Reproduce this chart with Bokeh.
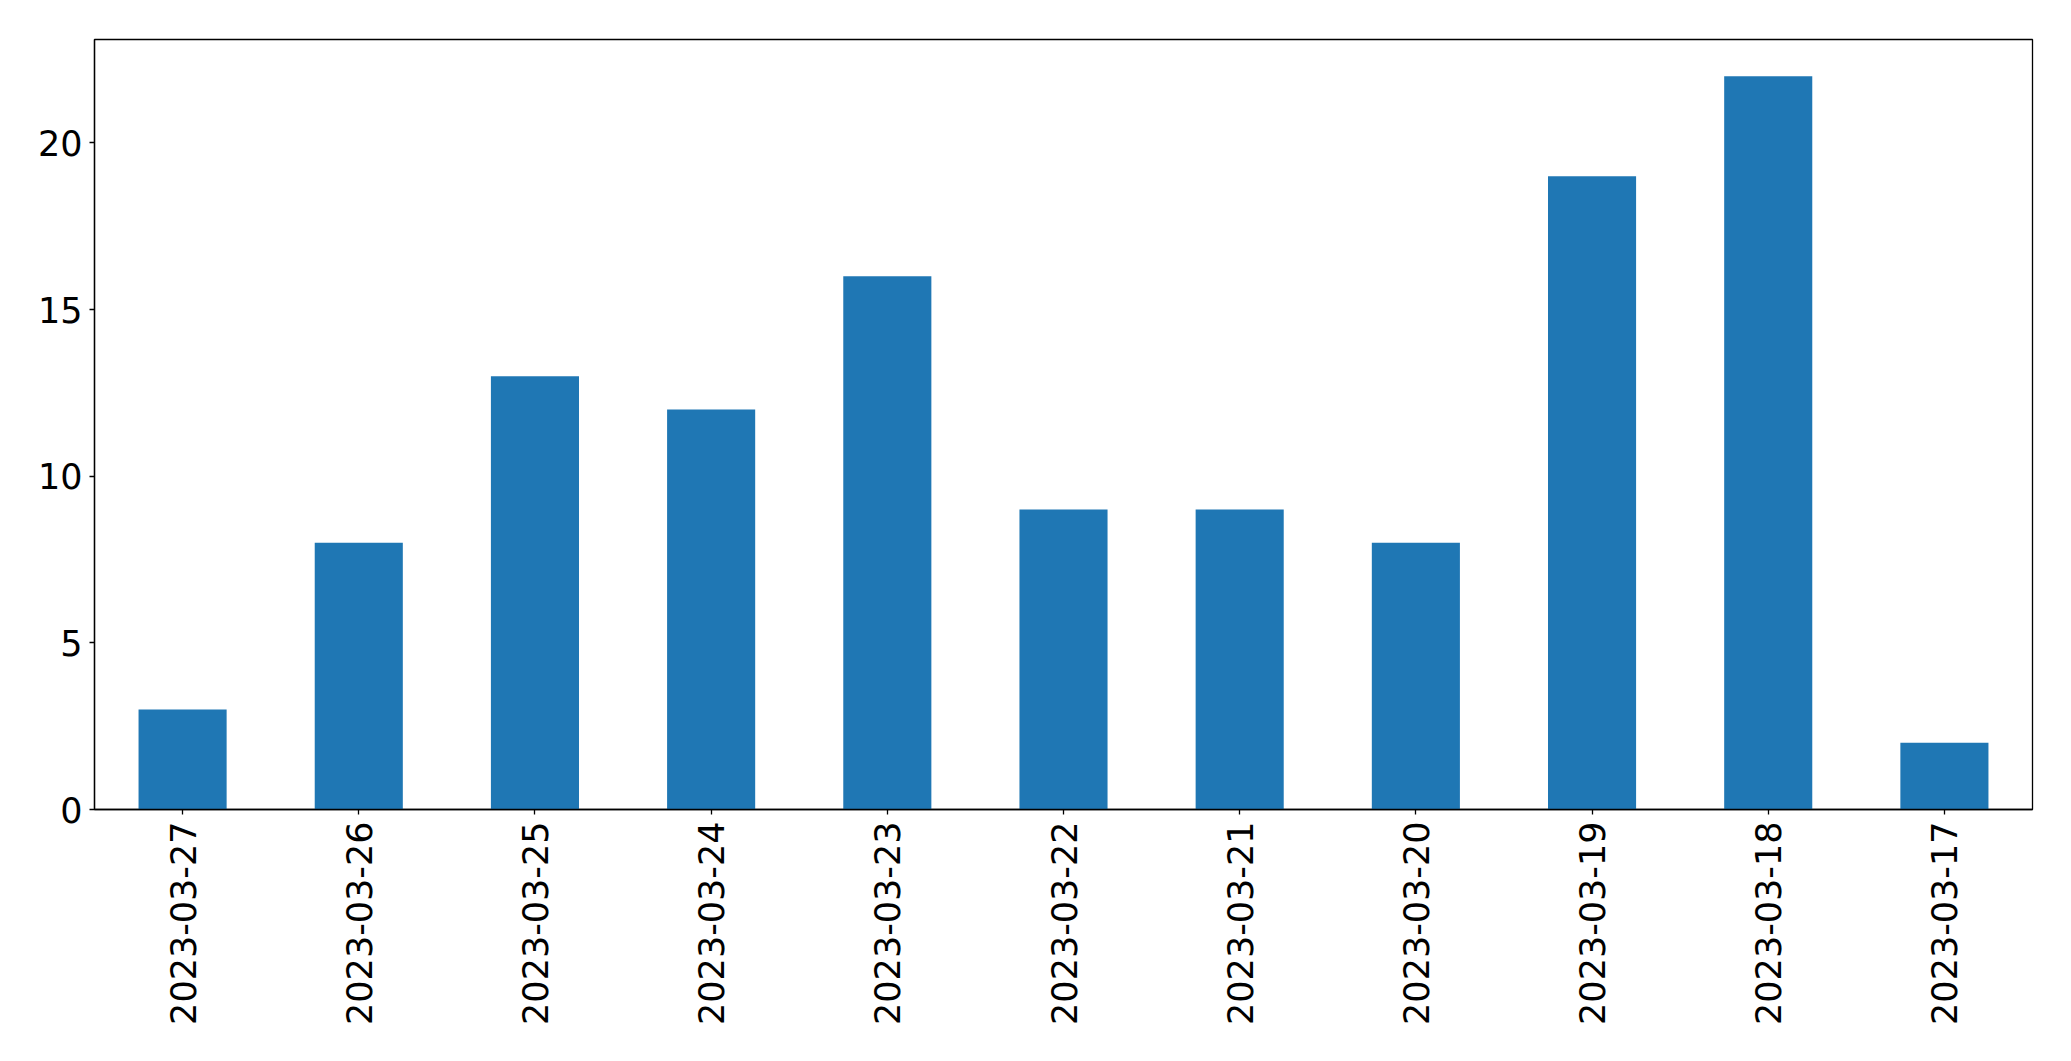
import math
from bokeh.plotting import figure
from bokeh.models import ColumnDataSource, Range1d, FactorRange, FixedTicker
from bokeh.embed import file_html
from bokeh.resources import INLINE

dates = ["2023-03-27", "2023-03-26", "2023-03-25", "2023-03-24", "2023-03-23",
         "2023-03-22", "2023-03-21", "2023-03-20", "2023-03-19", "2023-03-18",
         "2023-03-17"]
counts = [3, 8, 13, 12, 16, 9, 9, 8, 19, 22, 2]
y_ticks = [0, 5, 10, 15, 20]

src = ColumnDataSource(dict(x=dates, top=counts))

p = figure(width=2055, height=1045, output_backend="svg", toolbar_location=None,
           x_range=FactorRange(factors=dates, range_padding=0),
           y_range=Range1d(0, max(counts) * 1.05),
           min_border_left=94, min_border_top=39, min_border_right=23,
           min_border_bottom=236)

p.vbar(x="x", top="top", width=0.5, source=src, color="#1f77b4", line_color=None)

p.xgrid.visible = False
p.ygrid.visible = False
p.background_fill_color = "white"
p.border_fill_color = "white"
p.outline_line_color = "black"
p.outline_line_alpha = 1
p.outline_line_width = 1.3

for ax in (p.xaxis[0], p.yaxis[0]):
    ax.major_tick_out = 5
    ax.major_tick_in = 0
    ax.minor_tick_out = 0
    ax.minor_tick_in = 0
    ax.axis_line_color = "black"
    ax.axis_line_width = 1.3
    ax.major_tick_line_color = "black"
    ax.major_tick_line_width = 1.3
    ax.major_label_text_font = "DejaVu Sans"
    ax.major_label_text_font_size = "35px"
    ax.major_label_text_color = "black"
    ax.major_label_standoff = 7

p.yaxis[0].ticker = FixedTicker(ticks=y_ticks)
p.xaxis[0].major_label_orientation = math.pi / 2

open("out.html", "w").write(file_html(p, INLINE))
